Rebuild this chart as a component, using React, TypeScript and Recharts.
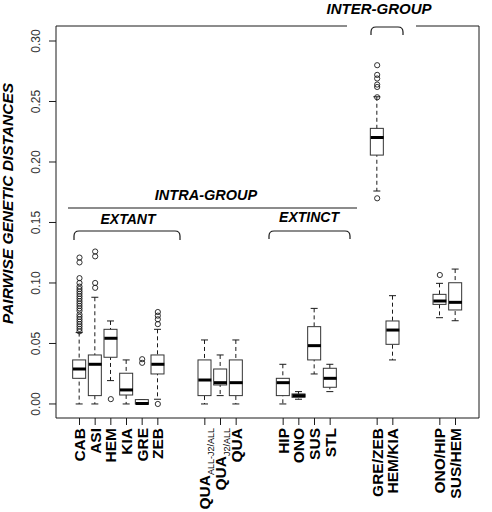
import React from 'react';
import { ComposedChart, Bar, Scatter, XAxis, YAxis } from 'recharts';

// ---- data ----
const categories = [
  'CAB', 'ASI', 'HEM', 'KIA', 'GRE', 'ZEB',
  'QUA_ALL-J2/ALL', 'QUA_J2/ALL', 'QUA',
  'HIP', 'ONO', 'SUS', 'STL',
  'GRE/ZEB', 'HEM/KIA',
  'ONO/HIP', 'SUS/HEM',
];
const slots = [1, 2, 3, 4, 5, 6, 9, 10, 11, 14, 15, 16, 17, 20, 21, 24, 25];
const slotCount = 27;

const whiskerLow = [0, 0, 0.0193, 0, 0, 0.0039, 0, 0.0069, 0, 0, 0.0039, 0.0248, 0.0102, 0.176, 0.0364, 0.0713, 0.0688];
const q1 = [0.0212, 0.0069, 0.0386, 0.0074, 0, 0.0248, 0.0069, 0.0157, 0.0069, 0.0069, 0.0055, 0.0364, 0.0138, 0.2057, 0.0493, 0.0823, 0.0777];
const median = [0.0289, 0.0328, 0.0543, 0.0116, 0.0004, 0.0328, 0.0198, 0.0176, 0.0176, 0.0176, 0.0069, 0.0482, 0.0212, 0.2203, 0.0611, 0.0851, 0.084];
const q3 = [0.0364, 0.0405, 0.0617, 0.0254, 0.0036, 0.0405, 0.0364, 0.0289, 0.0364, 0.0212, 0.0083, 0.0639, 0.0295, 0.2278, 0.0686, 0.0906, 0.1002];
const whiskerHigh = [0.059, 0.0882, 0.0686, 0.0364, 0.0036, 0.0617, 0.0529, 0.0405, 0.0529, 0.0328, 0.0102, 0.079, 0.0328, 0.2539, 0.0895, 0.0997, 0.1115];

const outlierCategory = [
  'CAB', 'CAB', 'CAB', 'CAB', 'CAB', 'CAB', 'CAB', 'CAB', 'CAB', 'CAB', 'CAB', 'CAB',
  'CAB', 'CAB', 'CAB', 'CAB', 'CAB', 'CAB', 'CAB', 'CAB', 'CAB', 'CAB', 'CAB',
  'ASI', 'ASI', 'ASI', 'ASI',
  'HEM',
  'GRE', 'GRE',
  'ZEB', 'ZEB', 'ZEB', 'ZEB', 'ZEB',
  'GRE/ZEB', 'GRE/ZEB', 'GRE/ZEB', 'GRE/ZEB', 'GRE/ZEB', 'GRE/ZEB', 'GRE/ZEB',
  'ONO/HIP',
];
const outlierValue = [
  0.060, 0.062, 0.064, 0.066, 0.068, 0.070, 0.072, 0.074, 0.077, 0.079, 0.081, 0.083,
  0.085, 0.087, 0.089, 0.091, 0.093, 0.095, 0.097, 0.100, 0.104, 0.117, 0.121,
  0.096, 0.100, 0.122, 0.126,
  0.004,
  0.034, 0.037,
  0.0, 0.066, 0.070, 0.073, 0.076,
  0.280, 0.272, 0.269, 0.264, 0.262, 0.170, 0.2535,
  0.1066,
];

const yTicks = [0, 0.05, 0.1, 0.15, 0.2, 0.25, 0.3];
const yDomain = [-0.0116, 0.3124];

// ---- build tables ----
type Row = {
  slot: string;
  label?: string;
  whisker?: [number, number];
  box?: [number, number];
  median?: number;
};
const table: Row[] = [];
for (let i = 0; i < slotCount; i++) {
  const k = slots.indexOf(i);
  if (k < 0) {
    table.push({ slot: 's' + i });
  } else {
    table.push({
      slot: 's' + i,
      label: categories[k],
      whisker: [whiskerLow[k], whiskerHigh[k]],
      box: [q1[k], q3[k]],
      median: median[k],
    });
  }
}
const outliers = outlierCategory.map((c, i) => ({
  slot: 's' + slots[categories.indexOf(c)],
  value: outlierValue[i],
}));

// ---- layout / style ----
const W = 492;
const H = 512;
const M = { top: 26, right: 13, bottom: 0, left: 0 };
const Y_AXIS_W = 56;
const X_AXIS_H = 94;
const BOX_W = 13;
const FONT = '"Liberation Sans", Arial, Helvetica, sans-serif';
const INK = '#1a1a1a';

const WhiskerShape = (p: any) => {
  const { x, y, width, height } = p;
  if (x == null || y == null || height == null || isNaN(y)) return <g />;
  const top = Math.min(y, y + height);
  const bot = Math.max(y, y + height);
  const cx = x + width / 2;
  const cap = 3.5;
  return (
    <g stroke={INK} strokeWidth={1}>
      <line x1={cx} x2={cx} y1={top} y2={bot} strokeDasharray="4 3" />
      <line x1={cx - cap} x2={cx + cap} y1={top} y2={top} />
      <line x1={cx - cap} x2={cx + cap} y1={bot} y2={bot} />
    </g>
  );
};

const BoxShape = (p: any) => {
  const { x, y, width, height } = p;
  if (x == null || y == null || height == null || isNaN(y)) return <g />;
  const top = Math.min(y, y + height);
  const h = Math.abs(height);
  return <rect x={x} y={top} width={width} height={h} fill="#fff" stroke="#333" strokeWidth={1} />;
};

const MedianShape = (p: any) => {
  const { cx, cy } = p;
  if (cx == null || cy == null || isNaN(cy)) return <g />;
  return <line x1={cx - BOX_W / 2} x2={cx + BOX_W / 2} y1={cy} y2={cy} stroke="#000" strokeWidth={3} />;
};

const OutlierShape = (p: any) => {
  const { cx, cy } = p;
  if (cx == null || cy == null || isNaN(cy)) return <g />;
  return <circle cx={cx} cy={cy} r={2.6} fill="none" stroke={INK} strokeWidth={0.9} />;
};

const XTick = (p: any) => {
  const { x, y, payload } = p;
  const row = table.find((r) => r.slot === payload.value);
  if (!row || !row.label) return <g />;
  const [main, sub] = row.label.split('_');
  const ty = y + 10;
  return (
    <g>
      <line x1={x} x2={x} y1={y} y2={y + 7} stroke={INK} strokeWidth={1} />
      <text
        x={x}
        y={ty}
        dy={5.5}
        transform={`rotate(-90 ${x} ${ty})`}
        textAnchor="end"
        fontFamily={FONT}
        fontWeight="bold"
        fontSize={15.5}
        fill="#000"
      >
        {main}
        {sub ? (
          <tspan fontSize={9} fontWeight="normal" dy={3.5}>
            {sub}
          </tspan>
        ) : null}
      </text>
    </g>
  );
};

const YTick = (p: any) => {
  const { x, y, payload } = p;
  const tx = x - 9;
  return (
    <text
      x={tx}
      y={y}
      transform={`rotate(-90 ${tx} ${y})`}
      textAnchor="middle"
      fontFamily={FONT}
      fontSize={12}
      fill="#333"
    >
      {Number(payload.value).toFixed(2)}
    </text>
  );
};

const plotL = M.left + Y_AXIS_W;
const plotR = W - M.right;
const plotT = M.top;
const plotB = H - M.bottom - X_AXIS_H;

const Annotations = () => {
  const lineProps = { stroke: INK, strokeWidth: 1.2, fill: 'none' };
  const bold = { fontFamily: FONT, fontWeight: 'bold' as const, fontStyle: 'italic' as const, fill: '#000' };
  const bracket = (x1: number, x2: number, yTop: number, yBot: number) => {
    const r = 5;
    return `M${x1} ${yBot} L${x1} ${yTop + r} Q${x1} ${yTop} ${x1 + r} ${yTop} L${x2 - r} ${yTop} Q${x2} ${yTop} ${x2} ${yTop + r} L${x2} ${yBot}`;
  };
  return (
    <svg
      width={W}
      height={H}
      style={{ position: 'absolute', left: 0, top: 0, pointerEvents: 'none' }}
    >
      {/* frame top (broken) and right */}
      <line x1={plotL} x2={347} y1={plotT} y2={plotT} stroke={INK} strokeWidth={1} />
      <line x1={416} x2={plotR} y1={plotT} y2={plotT} stroke={INK} strokeWidth={1} />
      <line x1={plotR} x2={plotR} y1={plotT} y2={plotB} stroke={INK} strokeWidth={1} />

      {/* y axis title */}
      <text
        x={12.5}
        y={203.5}
        transform="rotate(-90 12.5 203.5)"
        textAnchor="middle"
        fontSize={15.5}
        {...bold}
      >
        PAIRWISE GENETIC DISTANCES
      </text>

      {/* INTER-GROUP */}
      <text x={379} y={13.5} textAnchor="middle" fontSize={15} {...bold}>
        INTER-GROUP
      </text>
      <path d={bracket(371, 403, 27, 35)} {...lineProps} />

      {/* INTRA-GROUP */}
      <text x={206} y={200} textAnchor="middle" fontSize={14.5} {...bold}>
        INTRA-GROUP
      </text>
      <line x1={68} x2={357} y1={208} y2={208} stroke={INK} strokeWidth={1.2} />

      {/* EXTANT */}
      <text x={128} y={223.5} textAnchor="middle" fontSize={14} {...bold}>
        EXTANT
      </text>
      <path d={bracket(74, 180, 231, 240)} {...lineProps} />

      {/* EXTINCT */}
      <text x={309} y={222} textAnchor="middle" fontSize={14} {...bold}>
        EXTINCT
      </text>
      <path d={bracket(269, 350, 231, 239)} {...lineProps} />
    </svg>
  );
};

export default function App() {
  return (
    <div style={{ position: 'absolute', left: 0, top: 0, width: W, height: H, background: '#fff' }}>
      <ComposedChart width={W} height={H} data={table} margin={M}>
        <XAxis
          xAxisId="main"
          dataKey="slot"
          type="category"
          allowDuplicatedCategory={false}
          interval={0}
          height={X_AXIS_H}
          tickSize={0}
          tickMargin={0}
          tickLine={false}
          axisLine={{ stroke: INK, strokeWidth: 1 }}
          tick={<XTick />}
        />
        <XAxis
          xAxisId="box"
          dataKey="slot"
          type="category"
          orientation="top"
          height={0}
          allowDuplicatedCategory={false}
          hide
        />
        <YAxis
          type="number"
          domain={yDomain}
          allowDataOverflow
          ticks={yTicks}
          width={Y_AXIS_W}
          tickSize={7}
          tickMargin={0}
          interval={0}
          axisLine={{ stroke: INK, strokeWidth: 1 }}
          tickLine={{ stroke: INK, strokeWidth: 1 }}
          tick={<YTick />}
        />
        <Bar
          xAxisId="main"
          dataKey="whisker"
          barSize={BOX_W}
          shape={<WhiskerShape />}
          isAnimationActive={false}
        />
        <Bar
          xAxisId="box"
          dataKey="box"
          barSize={BOX_W}
          shape={<BoxShape />}
          isAnimationActive={false}
        />
        <Scatter
          xAxisId="main"
          dataKey="median"
          shape={<MedianShape />}
          isAnimationActive={false}
        />
        <Scatter
          xAxisId="main"
          data={outliers}
          dataKey="value"
          shape={<OutlierShape />}
          isAnimationActive={false}
        />
      </ComposedChart>
      <Annotations />
    </div>
  );
}
